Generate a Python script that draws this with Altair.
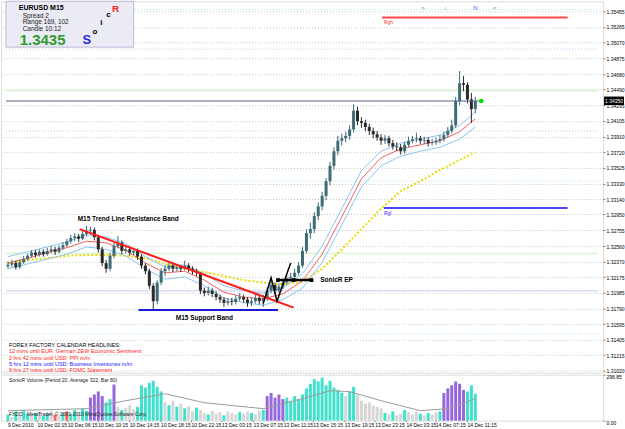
import altair as alt
import pandas as pd

# ---------------- data ----------------
FIRST_OPEN = 1.3231
closes = [1.3233, 1.3235, 1.3230, 1.3236, 1.3240, 1.3244, 1.3248, 1.3245, 1.3249, 1.3246,
          1.3250, 1.3252, 1.3249, 1.3254, 1.3257, 1.3262, 1.3266, 1.3268, 1.3265, 1.3271,
          1.3275, 1.3276, 1.3267, 1.3252, 1.3235, 1.3228, 1.3244, 1.3256, 1.3260, 1.3250,
          1.3252, 1.3248, 1.3250, 1.3243, 1.3232, 1.3225, 1.3207, 1.3188, 1.3211, 1.3225,
          1.3228, 1.3232, 1.3228, 1.3230, 1.3228, 1.3232, 1.3228, 1.3225, 1.3223, 1.3201,
          1.3198, 1.3201, 1.3197, 1.3193, 1.3190, 1.3186, 1.3188, 1.3187, 1.3191, 1.3193,
          1.3190, 1.3186, 1.3188, 1.3192, 1.3188, 1.3191, 1.3201, 1.3208, 1.3201, 1.3206,
          1.3211, 1.3216, 1.3218, 1.3223, 1.3232, 1.3250, 1.3272, 1.3277, 1.3293, 1.3305,
          1.3318, 1.3336, 1.3355, 1.3373, 1.3386, 1.3389, 1.3392, 1.3400, 1.3423, 1.3410,
          1.3408, 1.3403, 1.3398, 1.3394, 1.3390, 1.3386, 1.3389, 1.3383, 1.3379, 1.3378,
          1.3373, 1.3381, 1.3386, 1.3388, 1.3389, 1.3386, 1.3387, 1.3383, 1.3384, 1.3386,
          1.3388, 1.3393, 1.3398, 1.3405, 1.3435, 1.3457, 1.3455, 1.3437, 1.3425, 1.3435]
highs = [1.3237, 1.3239, 1.3238, 1.3239, 1.3244, 1.3247, 1.3251, 1.3251, 1.3252, 1.3252,
         1.3254, 1.3256, 1.3255, 1.3257, 1.3261, 1.3265, 1.3270, 1.3272, 1.3271, 1.3275,
         1.3281, 1.3280, 1.3279, 1.3270, 1.3255, 1.3239, 1.3248, 1.3260, 1.3268, 1.3263,
         1.3257, 1.3255, 1.3254, 1.3253, 1.3246, 1.3235, 1.3228, 1.3210, 1.3214, 1.3229,
         1.3233, 1.3237, 1.3235, 1.3234, 1.3233, 1.3238, 1.3235, 1.3231, 1.3228, 1.3224,
         1.3205, 1.3206, 1.3204, 1.3200, 1.3196, 1.3193, 1.3192, 1.3192, 1.3195, 1.3198,
         1.3196, 1.3193, 1.3192, 1.3197, 1.3195, 1.3196, 1.3205, 1.3213, 1.3211, 1.3210,
         1.3215, 1.3220, 1.3223, 1.3228, 1.3236, 1.3255, 1.3277, 1.3285, 1.3298, 1.3310,
         1.3323, 1.3340, 1.3360, 1.3378, 1.3392, 1.3395, 1.3397, 1.3405, 1.3431, 1.3428,
         1.3415, 1.3412, 1.3407, 1.3402, 1.3398, 1.3394, 1.3393, 1.3392, 1.3387, 1.3384,
         1.3382, 1.3385, 1.3391, 1.3392, 1.3396, 1.3392, 1.3391, 1.3390, 1.3388, 1.3390,
         1.3393, 1.3397, 1.3403, 1.3412, 1.3440, 1.3472, 1.3466, 1.3458, 1.3445, 1.3440]
lows = [1.3228, 1.3230, 1.3227, 1.3228, 1.3234, 1.3238, 1.3242, 1.3242, 1.3243, 1.3243,
        1.3244, 1.3247, 1.3245, 1.3247, 1.3251, 1.3255, 1.3259, 1.3262, 1.3261, 1.3263,
        1.3268, 1.3270, 1.3263, 1.3248, 1.3231, 1.3223, 1.3225, 1.3241, 1.3253, 1.3246,
        1.3247, 1.3244, 1.3245, 1.3239, 1.3228, 1.3221, 1.3203, 1.3178, 1.3184, 1.3208,
        1.3219, 1.3225, 1.3224, 1.3225, 1.3224, 1.3226, 1.3224, 1.3221, 1.3219, 1.3197,
        1.3194, 1.3195, 1.3193, 1.3189, 1.3186, 1.3181, 1.3183, 1.3183, 1.3184, 1.3188,
        1.3186, 1.3181, 1.3182, 1.3185, 1.3184, 1.3181, 1.3188, 1.3198, 1.3197, 1.3198,
        1.3203, 1.3208, 1.3212, 1.3215, 1.3220, 1.3229, 1.3247, 1.3265, 1.3272, 1.3288,
        1.3300, 1.3313, 1.3331, 1.3350, 1.3368, 1.3380, 1.3384, 1.3387, 1.3396, 1.3405,
        1.3402, 1.3398, 1.3393, 1.3389, 1.3386, 1.3381, 1.3382, 1.3379, 1.3375, 1.3373,
        1.3369, 1.3370, 1.3378, 1.3383, 1.3384, 1.3382, 1.3382, 1.3379, 1.3380, 1.3381,
        1.3383, 1.3385, 1.3390, 1.3395, 1.3402, 1.3430, 1.3447, 1.3432, 1.3408, 1.3420]

ma_idx = [0, 5, 10, 15, 20, 25, 30, 35, 40, 45, 50, 55, 60, 65, 70, 75, 80, 85, 90, 95, 100, 105, 110, 115, 119]
ma_slow = [1.3235, 1.3239, 1.3241, 1.3244, 1.3245, 1.3245, 1.3244, 1.3241, 1.3234, 1.3229, 1.3224, 1.3219, 1.3214,
           1.3211, 1.3209, 1.3212, 1.3228, 1.3252, 1.3277, 1.3302, 1.3324, 1.3336, 1.3350, 1.3362, 1.3372]
ma_mid = [1.3235, 1.3241, 1.3248, 1.3254, 1.3262, 1.3260, 1.3251, 1.3235, 1.3223, 1.3225, 1.3214, 1.3199, 1.3193,
          1.3191, 1.3197, 1.3213, 1.3246, 1.3292, 1.3339, 1.3365, 1.3376, 1.3381, 1.3386, 1.3397, 1.3413]
ma_up = [1.3243, 1.3249, 1.3255, 1.3261, 1.3270, 1.3267, 1.3259, 1.3243, 1.3230, 1.3233, 1.3222, 1.3207, 1.3201,
         1.3198, 1.3204, 1.3222, 1.3256, 1.3302, 1.3349, 1.3373, 1.3383, 1.3388, 1.3393, 1.3405, 1.3421]
ma_lo = [1.3228, 1.3234, 1.3240, 1.3246, 1.3255, 1.3252, 1.3244, 1.3228, 1.3215, 1.3218, 1.3207, 1.3192, 1.3186,
         1.3183, 1.3190, 1.3204, 1.3236, 1.3282, 1.3329, 1.3355, 1.3367, 1.3373, 1.3378, 1.3388, 1.3403]

volumes = [40, 25, 60, 30, 70, 45, 35, 50, 55, 30,
           45, 65, 40, 35, 50, 60, 45, 70, 55, 80,
           65, 150, 170, 190, 160, 120, 140, 235, 90, 70,
           85, 100, 75, 90, 230, 215, 245, 260, 220, 190,
           120, 100, 130, 90, 110, 80, 95, 60, 85, 70,
           50, 40, 65, 45, 55, 35, 60, 50, 40, 55,
           45, 60, 50, 40, 65, 70, 160, 180, 150, 170,
           140, 150, 130, 160, 140, 170, 210, 240, 270, 255,
           280, 230, 260, 215, 200, 180, 160, 190, 220, 170,
           130, 110, 120, 100, 90, 80, 50, 40, 60, 35,
           45, 70, 55, 40, 60, 45, 35, 50, 40, 55,
           60, 180, 210, 230, 255, 240, 200, 190, 230, 175]
vol_kind = list("tgtgttgtgttgrgtrttgtt" + "pppp" + "ttp" + "gtgggt" + "tttttt" + "gtgtgtg"
                + "gtggtgggtgggtggtggt" + "ppppp" + "ttttt" + "ttttttttt" + "tgttg" + "gggggg"
                + "tgtggtgggtgtggt" + "pppppp" + "ttt")
vavg_idx = [0, 20, 30, 40, 50, 65, 75, 82, 87, 95, 105, 112, 119]
vavg_val = [65, 78, 130, 175, 117, 78, 143, 195, 189, 130, 65, 78, 143]

price_ticks = [1.35455, 1.35265, 1.35070, 1.34875, 1.34680, 1.34490, 1.34295, 1.34105, 1.33910, 1.33720,
               1.33525, 1.33330, 1.33140, 1.32950, 1.32755, 1.32560, 1.32370, 1.32175, 1.31985, 1.31790,
               1.31595, 1.31405, 1.31215, 1.31020]
time_labels = ["9 Dec 2010", "10 Dec 02:15", "10 Dec 06:15", "10 Dec 10:15", "10 Dec 14:15", "10 Dec 18:15",
               "10 Dec 22:15", "13 Dec 03:15", "13 Dec 07:15", "13 Dec 11:15", "13 Dec 15:15", "13 Dec 19:15",
               "13 Dec 23:15", "14 Dec 03:15", "14 Dec 07:15", "14 Dec 11:15"]
time_pos = [0.0, 7.5, 15.25, 23.0, 31.0, 39.0, 46.75, 54.5, 62.5, 70.25, 77.75, 85.75, 93.5, 101.5, 109.0, 117.0]

assert len(closes) == len(highs) == len(lows) == len(volumes) == len(vol_kind) == 120

n = len(closes)
opens = [FIRST_OPEN] + closes[:-1]
cdf = pd.DataFrame({"i": list(range(n)), "o": opens, "c": closes, "h": highs, "l": lows})
cdf["dir"] = ["up" if c >= o else "down" for o, c in zip(opens, closes)]
madf = pd.DataFrame({"i": ma_idx, "slow": ma_slow, "mid": ma_mid, "up": ma_up, "lo": ma_lo})
vdf = pd.DataFrame({"i": list(range(n)), "v": volumes, "k": vol_kind})
vadf = pd.DataFrame({"i": vavg_idx, "v": vavg_val})

# ---------------- scales ----------------
W = 603
H = 372
XS = alt.Scale(domain=[-0.5, W / 4 - 0.5], nice=False, zero=False)
YS = alt.Scale(domain=[1.30997, 1.3558], nice=False, zero=False)
FONT = "Liberation Sans"
YAX = alt.Axis(orient="right", values=price_ticks, format=".5f", grid=True, gridDash=[1, 2],
               gridColor="#c4c4c4", labelFontSize=5, labelFont=FONT, tickSize=2, labelPadding=1,
               domain=False, tickColor="#808080", labelColor="#000000", title=None)


def xq(f):
    return alt.X(f"{f}:Q", scale=XS, axis=None)


def yq(f):
    return alt.Y(f"{f}:Q", scale=YS, axis=YAX)


def rule(rows, color, width=1, dash=None):
    d = pd.DataFrame(rows, columns=["a", "b", "p", "q"])
    kw = dict(color=color, strokeWidth=width)
    if dash:
        kw["strokeDash"] = dash
    return alt.Chart(d).mark_rule(**kw).encode(x=xq("a"), x2="b:Q", y=yq("p"), y2="q:Q")


def label(rows, size, color="#000000", bold=False, align="left"):
    d = pd.DataFrame(rows, columns=["i", "p", "t"])
    return alt.Chart(d).mark_text(align=align, baseline="middle", fontSize=size, font=FONT, color=color,
                                  fontWeight="bold" if bold else "normal").encode(
        x=xq("i"), y=yq("p"), text="t:N")


XR = W / 4 - 0.5
# pivot / level lines
pivots_dot = rule([(-0.5, XR, 1.3548, 1.3548), (-0.5, XR, 1.3336, 1.3336), (-0.5, XR, 1.3148, 1.3148)],
                  "#a8e8c8", 1, [1, 2])
pivots_dot2 = rule([(-0.5, XR, 1.3499, 1.3499), (-0.5, XR, 1.3398, 1.3398)], "#c0c0ec", 1, [1, 2])
pivots_solid_g = rule([(-0.5, XR, 1.3448, 1.3448), (-0.5, XR, 1.3247, 1.3247)], "#dff5d8", 2)
pivots_solid_l = rule([(-0.5, XR, 1.3201, 1.3201)], "#e0e0f4", 2)

# moving averages
base_ma = alt.Chart(madf)
ma_yellow = base_ma.mark_line(color="#e8dc00", strokeWidth=2, strokeDash=[2, 2]).encode(x=xq("i"), y=yq("slow"))
ma_u = base_ma.mark_line(color="#8cc4f0", strokeWidth=1).encode(x=xq("i"), y=yq("up"))
ma_m = base_ma.mark_line(color="#f06060", strokeWidth=1).encode(x=xq("i"), y=yq("mid"))
ma_l = base_ma.mark_line(color="#8cc4f0", strokeWidth=1).encode(x=xq("i"), y=yq("lo"))

# candles
ccol = alt.Color("dir:N", scale=alt.Scale(domain=["up", "down"], range=["#3d6b78", "#2a2a2a"]), legend=None)
wicks = alt.Chart(cdf).mark_rule(strokeWidth=1).encode(x=xq("i"), y=yq("l"), y2="h:Q", color=ccol)
bodies = alt.Chart(cdf).mark_bar(size=3).encode(x=xq("i"), y=yq("o"), y2="c:Q", color=ccol)

# trend / support / setups
trend = rule([(18.25, 72.75, 1.3277, 1.3180)], "#ff1a1a", 2)
support = rule([(33.25, 68.75, 1.3177, 1.3177)], "#1a1ad0", 2)
zz = pd.DataFrame({"i": [65.0, 67.0, 68.5, 72.0], "p": [1.3185, 1.3217, 1.3188, 1.3235], "o": [0, 1, 2, 3]})
zigzag = alt.Chart(zz).mark_line(color="#000000", strokeWidth=1.5).encode(x=xq("i"), y=yq("p"), order="o:Q")
ep = rule([(68.5, 77.75, 1.3214, 1.3214)], "#000000", 2.5)
epd = pd.DataFrame({"i": [68.75, 72.75, 77.25], "p": [1.3214, 1.3214, 1.3214]})
ep_pts = alt.Chart(epd).mark_square(size=14, color="#000000", opacity=1).encode(x=xq("i"), y=yq("p"))
rgh = rule([(95.25, 142.5, 1.3538, 1.3538)], "#ff4848", 2)
rgl = rule([(95.75, 142.5, 1.3303, 1.3303)], "#4848ff", 2)
bid = rule([(-0.5, 120.5, 1.3435, 1.3435)], "#56608c", 1)
dot = alt.Chart(pd.DataFrame({"i": [120.5], "p": [1.3435]})).mark_circle(size=22, color="#00dd00", opacity=1).encode(
    x=xq("i"), y=yq("p"))

# info box
box = alt.Chart(pd.DataFrame({"a": [-0.5], "b": [32.0], "p": [1.3558], "q": [1.35015]})).mark_rect(
    fill="#ebebf5", stroke="#b8b8d4", strokeWidth=1).encode(x=xq("a"), x2="b:Q", y=yq("p"), y2="q:Q")
info1 = label([(2.75, 1.3550, "EURUSD   M15")], 7, bold=True)
info2 = label([(3.75, 1.3540, "Spread  2"), (3.75, 1.3532, "Range  169, 102"), (3.75, 1.3524, "Candle  10:12")], 6.5,
              color="#222222")
info3 = label([(3.0, 1.3510, "1.3435")], 15, color="#2f9a2f", bold=True)
sonS = label([(19.0, 1.3510, "S")], 13, color="#2828e0", bold=True)
sonR = label([(26.5, 1.3548, "R")], 10, color="#ff2020", bold=True)
sonx = label([(21.5, 1.3520, "o"), (23.5, 1.3531, "i"), (25.0, 1.3541, "c")], 8, bold=True)

# annotations
ann = label([(17.75, 1.3289, "M15 Trend Line Resistance Band"), (42.75, 1.3167, "M15 Support Band"),
             (79.5, 1.3214, "SonicR EP")], 6.5, bold=True)
rgh_t = label([(95.75, 1.3532, "Rgh")], 5, color="#ff3030")
rgl_t = label([(95.75, 1.3297, "Rgl")], 5, color="#3030ff")
arrows = label([(105.25, 1.3550, ">"), (111.0, 1.3550, "\u2193"), (118.5, 1.3550, "N"), (123.5, 1.3550, "<")], 6,
               color="#5050ff")
ff_h = label([(0.25, 1.3134, "FOREX FACTORY CALENDAR  HEADLINES:")], 5.5)
ff_r = label([(0.25, 1.3126, "12 mins until EUR: German ZEW Economic Sentiment"),
              (0.25, 1.3118, "2 hrs 42 mins until USD: PPI m/m"),
              (0.25, 1.3103, "9 hrs 27 mins until USD: FOMC Statement")], 5.5, color="#ff2020")
ff_b = label([(0.25, 1.3111, "5 hrs 12 mins until USD: Business Inventories m/m")], 5.5, color="#2020ff")

# current price box on the axis
pbox = alt.Chart(pd.DataFrame({"p": [1.34405], "q": [1.34300]})).mark_rect(color="#000000").encode(
    x=alt.value(W + 1), x2=alt.value(W + 21), y=yq("p"), y2="q:Q")
ptxt = alt.Chart(pd.DataFrame({"p": [1.34352], "t": ["1.34350"]})).mark_text(
    align="left", baseline="middle", fontSize=5, font=FONT, color="#ffffff").encode(
    x=alt.value(W + 2), y=yq("p"), text="t:N")

main = alt.layer(pivots_dot, pivots_dot2, pivots_solid_g, pivots_solid_l, ma_yellow, ma_u, ma_l, ma_m,
                 wicks, bodies, trend, support, zigzag, ep, ep_pts, rgh, rgl, bid, dot,
                 box, info1, info2, info3, sonS, sonR, sonx, ann, rgh_t, rgl_t, arrows,
                 ff_h, ff_r, ff_b, pbox, ptxt).properties(width=W, height=H)

# ---------------- volume panel ----------------
VS = alt.Scale(domain=[0, 298.85], nice=False, zero=True)
VAX = alt.Axis(orient="right", values=[0, 298.85], format=".2f", grid=False, labelFontSize=5, labelFont=FONT,
               tickSize=2, labelPadding=1, domain=False, tickColor="#808080", title=None,
               labelBaseline="top")
vbars = alt.Chart(vdf).mark_bar(size=3).encode(
    x=xq("i"), y=alt.Y("v:Q", scale=VS, axis=VAX),
    color=alt.Color("k:N", scale=alt.Scale(domain=["t", "g", "p", "r"],
                                           range=["#3fe0cc", "#d6d6d6", "#9468dc", "#ff6060"]), legend=None))
vavg = alt.Chart(vadf).mark_line(color="#9a9a9a", strokeWidth=1).encode(
    x=xq("i"), y=alt.Y("v:Q", scale=VS, axis=VAX))
vtxt = alt.Chart(pd.DataFrame({"i": [0.25, 0.25], "v": [262, 44],
                               "t": ["SonicR Volume (Period 20, Average 322, Bar 80)",
                                     "FXDD - MetaTrader, \u00a9 2001-2010 MetaQuotes Software Corp."]})).mark_text(
    align="left", baseline="middle", fontSize=5, font=FONT, color="#222222").encode(
    x=xq("i"), y=alt.Y("v:Q", scale=VS, axis=VAX), text="t:N")
tdf = pd.DataFrame({"i": time_pos, "t": time_labels})
tlabels = alt.Chart(tdf).mark_text(align="left", baseline="middle", fontSize=5, font=FONT, color="#000000").encode(
    x=xq("i"), y=alt.value(50), text="t:N")
tticks = alt.Chart(tdf).mark_rule(color="#808080").encode(x=xq("i"), y=alt.value(46), y2=alt.value(47.5))
vol = alt.layer(vbars, vavg, vtxt, tticks, tlabels).properties(width=W, height=46)

chart = alt.vconcat(main, vol, spacing=2, bounds="flush").resolve_scale(
    y="independent", color="independent").properties(
    padding={"left": 0, "top": 0, "right": 0, "bottom": 0}
).configure_view(stroke="#808080", strokeWidth=1).configure(background="#ffffff")

chart.save("out.html", embed_options={"renderer": "svg", "actions": False})
